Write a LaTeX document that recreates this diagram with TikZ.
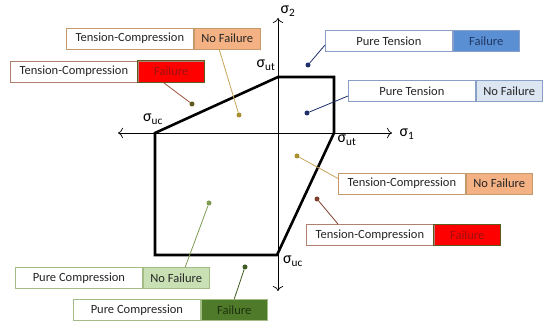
\documentclass[tikz,border=0pt]{standalone}
\usepackage{fontspec}
\setmainfont{Carlito}
\usetikzlibrary{arrows.meta}

\definecolor{nfOrange}{HTML}{F4B183}
\definecolor{bdOrange}{HTML}{C49A6C}
\definecolor{lnOrange}{HTML}{C8A45A}
\definecolor{dtOrange}{HTML}{A89030}
\definecolor{bdRed}{HTML}{B08070}
\definecolor{txRed}{HTML}{A01010}
\definecolor{lnRed}{HTML}{A05038}
\definecolor{dtRed}{HTML}{5E5A20}
\definecolor{fBlue}{HTML}{5B8FD3}
\definecolor{nfBlue}{HTML}{DCE6F2}
\definecolor{bdBlue}{HTML}{8A9FC8}
\definecolor{txBlue}{HTML}{1F3864}
\definecolor{dtBlue}{HTML}{1F2F6A}
\definecolor{nfGreen}{HTML}{C9E0B4}
\definecolor{fGreen}{HTML}{4F7A2A}
\definecolor{bdGreen}{HTML}{A3BC86}
\definecolor{lnGreen}{HTML}{7D9C52}
\definecolor{dtGreen}{HTML}{3C5C22}
\definecolor{txGreen}{HTML}{1E3010}

\tikzset{
  part/.style={draw=#1, minimum width=127pt, minimum height=21pt, inner sep=0pt,
    line width=0.8pt, font=\fontsize{12.5}{14}\selectfont, text=black!85},
  dot/.style={circle, fill=#1, inner sep=0pt, minimum size=5pt},
  lead/.style={draw=#1, line width=0.8pt},
  sig/.style={font=\fontsize{16}{18}\selectfont, inner sep=0pt}
}

% name, x, y, label, state, border, fill, text colour
\newcommand{\casebox}[8]{%
  \node[part=#6, fill=white, anchor=west] (#1-l) at (#2,#3) {#4};
  \node[part=#6, fill=#7, text=#8, minimum width=66pt, anchor=west] (#1-s) at (#1-l.east) {#5};
}

\begin{document}
\begin{tikzpicture}[x=1pt, y=-1pt]
    \useasboundingbox (0,0) rectangle (550,328);

    % axes
    \coordinate (O) at (278,133);
    \draw[{To[length=5pt]}-{To[length=5pt]}, line width=0.7pt] (118,133) -- (392,133);
    \draw[{To[length=5pt]}-{To[length=5pt]}, line width=0.7pt] (278,18) -- (278,291);
    \node[sig] at (407,134) {σ\textsubscript{1}};
    \node[sig] at (288,11) {σ\textsubscript{2}};

    % failure envelope
    \coordinate (P1) at (155,133);
    \coordinate (P2) at (278,77);
    \coordinate (P3) at (334,77);
    \coordinate (P4) at (334,133);
    \coordinate (P5) at (277,255);
    \coordinate (P6) at (155,255);
    \draw[line width=2.6pt, line join=miter] (P1) -- (P2) -- (P3) -- (P4) -- (P5) -- (P6) -- cycle;

    \node[sig] at (266,65) {σ\textsubscript{ut}};
    \node[sig] at (153,119) {σ\textsubscript{uc}};
    \node[sig] at (347,140) {σ\textsubscript{ut}};
    \node[sig] at (293,261) {σ\textsubscript{uc}};

    % boxes
    \casebox{tcnfA}{66}{38.5}{Tension-Compression}{No Failure}{bdOrange}{nfOrange}{black!85}
    \casebox{tcfA}{10}{71.5}{Tension-Compression}{Failure}{bdRed}{red}{txRed}
    \casebox{ptf}{325}{41}{Pure Tension}{Failure}{bdBlue}{fBlue}{txBlue}
    \casebox{ptnf}{348}{91}{Pure Tension}{No Failure}{bdBlue}{nfBlue}{black!85}
    \casebox{tcnfB}{338}{183.5}{Tension-Compression}{No Failure}{bdOrange}{nfOrange}{black!85}
    \casebox{tcfB}{306}{235}{Tension-Compression}{Failure}{bdRed}{red}{txRed}
    \casebox{pcnf}{15}{278}{Pure Compression}{No Failure}{bdGreen}{nfGreen}{black!85}
    \casebox{pcf}{73}{310}{Pure Compression}{Failure}{bdGreen}{fGreen}{txGreen}
    \draw[draw=dtRed, line width=1pt] (tcfA-s.north west) rectangle (tcfA-s.south east);
    \draw[draw=dtRed, line width=1pt] (tcfB-s.north west) rectangle (tcfB-s.south east);

    % points and leaders
    \node[dot=dtOrange] (d1) at (239,115) {};
    \node[dot=dtRed] (d2) at (192,104) {};
    \node[dot=dtBlue] (d3) at (308,65) {};
    \node[dot=dtBlue] (d4) at (307,113) {};
    \node[dot=dtOrange] (d5) at (297,156) {};
    \node[dot=lnRed!80!black] (d6) at (317,199) {};
    \node[dot=lnGreen] (d7) at (209,203) {};
    \node[dot=dtGreen] (d8) at (245,267) {};

    \draw[lead=lnOrange] ([xshift=-8pt]tcnfA-s.south) -- (d1);
    \draw[lead=lnRed] ([xshift=-8pt]tcfA-s.south) -- (d2);
    \draw[lead=dtBlue] ([yshift=-4pt]ptf-l.west) -- (d3);
    \draw[lead=dtBlue] ([yshift=-5pt]ptnf-l.west) -- (d4);
    \draw[lead=lnOrange] ([yshift=5pt]tcnfB-l.west) -- (d5);
    \draw[lead=lnRed!80!black] ([xshift=32pt]tcfB-l.north west) -- (d6);
    \draw[lead=lnGreen] ([xshift=9pt]pcnf-s.north) -- (d7);
    \draw[lead=dtGreen] (pcf-s.north) -- (d8);
  \end{tikzpicture}
\end{document}
